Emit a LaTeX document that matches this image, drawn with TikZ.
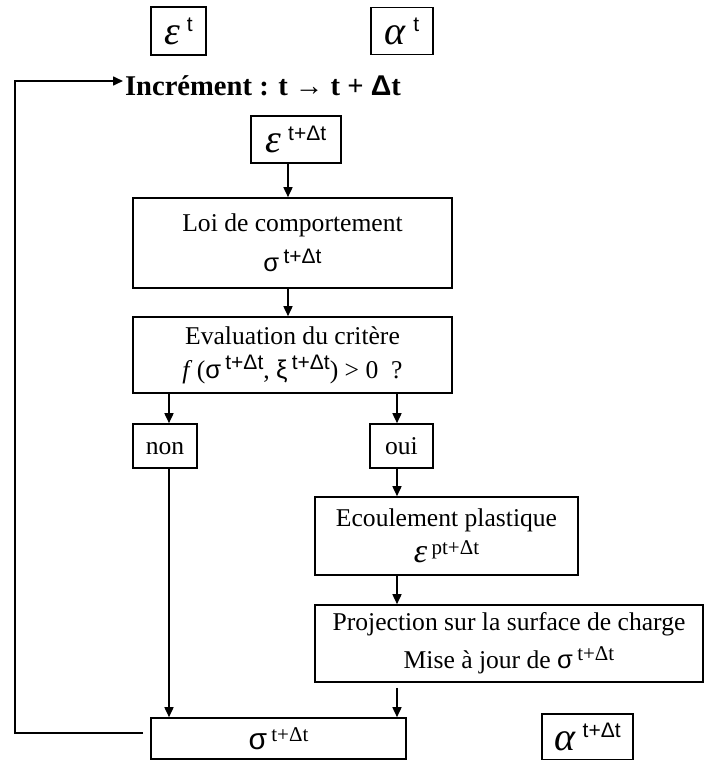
\documentclass[tikz,border=0pt]{standalone}
\usepackage{fontspec}
\setmainfont{Liberation Serif}
\newfontfamily\arial{Liberation Sans}
\usetikzlibrary{arrows.meta}

\newcommand{\sig}{{\arial σ}}
\newcommand{\eps}{\textit{ε}}
\newcommand{\alp}{\textit{α}}
\newcommand{\supsf}[1]{\,\raisebox{0.7ex}{\arial\fontsize{10.5}{12}\selectfont #1}}
\newcommand{\supsr}[1]{\,\raisebox{0.7ex}{\fontsize{10.5}{12}\selectfont #1}}

\tikzset{
  box/.style={draw, line width=0.8pt, inner sep=0pt, align=center,
    font=\fontsize{12.8}{20}\selectfont},
  wh/.style 2 args={minimum width=#1*0.5pt, minimum height=#2*0.5pt},
  arr/.style={-{Triangle[length=5pt,width=4.5pt]}, line width=0.8pt},
  big/.style={font=\fontsize{20}{20}\selectfont},
}

\begin{document}
\begin{tikzpicture}[x=0.5pt, y=-0.5pt]
  \useasboundingbox (0,0) rectangle (704,760);
  % top row
  \node[box, big, wh={55}{48}] (epst) at (178.5,31) {\eps\supsf{t}};
  \node[box, big, wh={62}{47}] (alphat) at (402,31) {\alp\supsf{t}};
  \node[font=\bfseries\fontsize{14.3}{16}\selectfont] (incr) at (263,86)
    {Incrément : t → t + {\arial Δ}t};
  \node[box, big, wh={90}{47}] (epsdt) at (296,139.5) {\eps\supsf{t+Δt}};
  % main column
  \node[box, wh={319}{90}] (loi) at (292.5,243)
    {Loi de comportement\\ \sig\supsf{t+Δt}};
  \node[box, wh={319}{76}, font=\fontsize{12.8}{17}\selectfont] (eval) at (292.5,355)
    {Evaluation du critère\\ \textit{f}\,(\sig\supsf{t+Δt}, {\arial ξ}\supsf{t+Δt}) > 0 \ ?};
  \node[box, wh={64}{44}] (non) at (165,446) {\strut non};
  \node[box, wh={63}{44}] (oui) at (401.5,446) {\strut oui};
  \node[box, wh={263}{78}, font=\fontsize{12.8}{18}\selectfont] (ecoul) at (446.5,536)
    {Ecoulement plastique\\ {\fontsize{17}{17}\selectfont\eps}\supsr{pt+Δt}};
  \node[box, wh={388}{77}, font=\fontsize{12.8}{15}\selectfont] (proj) at (509,643.5)
    {Projection sur la surface de charge\\[4pt] Mise à jour de \sig\supsr{t+Δt}};
  % bottom row
  \node[box, wh={255}{41}] (sig) at (278.5,738.5)
    {{\fontsize{15}{15}\selectfont\sig}\supsr{t+Δt}};
  \node[box, big, wh={91}{46}] (alphadt) at (587.5,737) {\alp\supsf{t+Δt}};

  % connectors
  \coordinate (colM) at (288,0);
  \coordinate (colL) at (169,0);
  \coordinate (colR) at (397,0);
  \draw[arr] (epsdt.south -| colM) -- (loi.north -| colM);
  \draw[arr] (loi.south -| colM) -- (eval.north -| colM);
  \draw[arr] (eval.south -| colL) -- (non.north -| colL);
  \draw[arr] (eval.south -| colR) -- (oui.north -| colR);
  \draw[arr] (non.south -| colL) -- (sig.north -| colL);
  \draw[arr] (oui.south -| colR) -- (ecoul.north -| colR);
  \draw[arr] (ecoul.south -| colR) -- (proj.north -| colR);
  \draw[arr, shorten <=2.5pt] (proj.south -| colR) -- (sig.north -| colR);
  % loop back
  \coordinate (fbin) at (143,733);
  \coordinate (corner) at (15,81);
  \coordinate (fbout) at (123,81);
  \draw[arr] (fbin) -| (corner) -- (fbout);
\end{tikzpicture}
\end{document}
